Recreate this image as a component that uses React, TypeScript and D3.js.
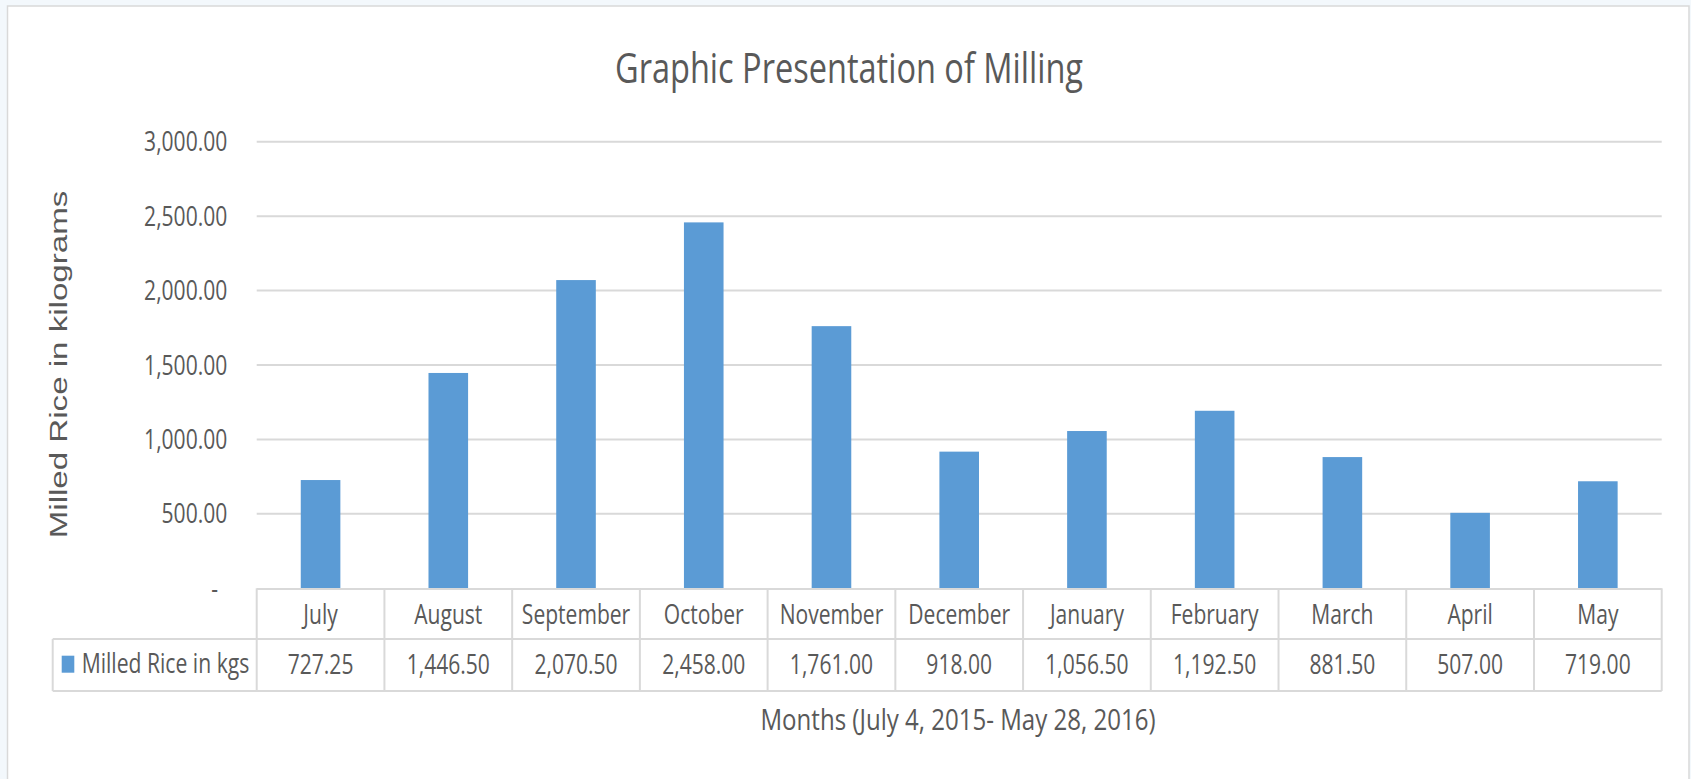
import React from 'react';
import * as d3 from 'd3';

// chart values
const months = ['July', 'August', 'September', 'October', 'November', 'December', 'January', 'February', 'March', 'April', 'May'];
const milledKgs = [727.25, 1446.5, 2070.5, 2458.0, 1761.0, 918.0, 1056.5, 1192.5, 881.5, 507.0, 719.0];
const yTicks = [0, 500, 1000, 1500, 2000, 2500, 3000];
const seriesName = 'Milled Rice in kgs';
const chartTitle = 'Graphic Presentation of Milling';
const yTitle = 'Milled Rice in kilograms';
const xTitle = 'Months (July 4, 2015- May 28, 2016)';

const W = 1691;
const H = 779;
const plotLeft = 256.7;
const plotRight = 1661.7;
const plotTop = 141.7;
const plotBottom = 588.3;
const rowMid = 639;
const rowBottom = 691;
const legendLeft = 52.7;

const textColor = '#595959';
const lineColor = '#d9d9d9';
const barColor = '#5b9bd5';
const font = "'Open Sans', sans-serif";
const fs = 27;
const sx = 0.78;

const fmt = d3.format(',.2f');

export default function App() {
  const x = d3.scaleBand().domain(months).range([plotLeft, plotRight]).padding(0);
  const xBar = d3.scaleBand().domain(months).range([plotLeft, plotRight])
    .paddingInner(0.69).paddingOuter(0.345);
  const y = d3.scaleLinear().domain([0, 3000]).range([plotBottom, plotTop]);

  const cell = (cx: number, by: number, s: string, key: string) => (
    <text key={key} transform={`translate(${cx},${by}) scale(${sx},1)`} textAnchor="middle"
      fontFamily={font} fontSize={fs} fill={textColor}>{s}</text>
  );

  return (
    <svg width={W} height={H} style={{ position: 'absolute', left: 0, top: 0, display: 'block' }}>
      <rect x={0} y={0} width={W} height={H} fill="#f3f8fc" />
      <rect x={7.5} y={6} width={1681.5} height={H + 20} fill="#ffffff" stroke={lineColor} strokeWidth={1.5} />

      <text x={849} y={83.3} textAnchor="middle" fontFamily={font} fontSize={42} fill={textColor}
        textLength={468} lengthAdjust="spacingAndGlyphs">{chartTitle}</text>

      {/* gridlines + tick labels */}
      {yTicks.map(t => (
        <g key={t}>
          {t > 0 && <line x1={plotLeft} x2={plotRight} y1={y(t)} y2={y(t)} stroke={lineColor} strokeWidth={2} />}
          <text transform={`translate(${t === 0 ? 218 : 227.3},${y(t) + 9.6}) scale(${sx},1)`} textAnchor="end"
            fontFamily={font} fontSize={fs} fill={textColor}>{t === 0 ? '-' : fmt(t)}</text>
        </g>
      ))}

      {/* bars */}
      {months.map((m, i) => (
        <rect key={m} x={xBar(m)} width={xBar.bandwidth()} y={y(milledKgs[i])}
          height={y(0) - y(milledKgs[i])} fill={barColor} />
      ))}

      {/* data table */}
      <g stroke={lineColor} strokeWidth={2} fill="none">
        <line x1={plotLeft} x2={plotRight} y1={plotBottom + 0.7} y2={plotBottom + 0.7} />
        <line x1={legendLeft} x2={plotRight} y1={rowMid} y2={rowMid} />
        <line x1={legendLeft} x2={plotRight} y1={rowBottom} y2={rowBottom} />
        <line x1={legendLeft} x2={legendLeft} y1={rowMid} y2={rowBottom} />
        {months.map(m => (
          <line key={m} x1={x(m)} x2={x(m)} y1={plotBottom} y2={rowBottom} />
        ))}
        <line x1={plotRight} x2={plotRight} y1={plotBottom} y2={rowBottom} />
      </g>
      {months.map((m, i) => (
        <g key={m}>
          {cell((x(m) as number) + x.bandwidth() / 2, 623.5, m, 'c' + m)}
          {cell((x(m) as number) + x.bandwidth() / 2, 674, fmt(milledKgs[i]), 'v' + m)}
        </g>
      ))}
      <rect x={61.7} y={655.7} width={12.6} height={17} fill={barColor} />
      <text x={81.7} y={673.3} fontFamily={font} fontSize={26.6} fill={textColor}
        textLength={167.6} lengthAdjust="spacingAndGlyphs">{seriesName}</text>

      {/* axis titles */}
      <text transform="translate(66.7,364.5) rotate(-90)" textAnchor="middle"
        fontFamily="'Liberation Sans', Arial, sans-serif" fontSize={23.3} fill={textColor}
        textLength={347.6} lengthAdjust="spacingAndGlyphs">{yTitle}</text>
      <text x={958} y={730} textAnchor="middle" fontFamily={font} fontSize={29} fill={textColor}
        textLength={395} lengthAdjust="spacingAndGlyphs">{xTitle}</text>
    </svg>
  );
}
